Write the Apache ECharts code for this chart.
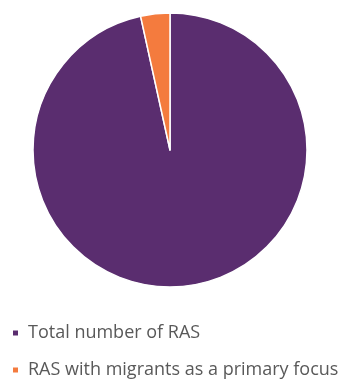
<!DOCTYPE html>
<html>
<head>
<meta charset="utf-8">
<script src="https://cdn.jsdelivr.net/npm/echarts@6/dist/echarts.min.js"></script>
<style>
  html, body { margin: 0; padding: 0; background: #fff; }
  #chart { width: 340px; height: 381px; }
</style>
</head>
<body>
<div id="chart"></div>
<script>
// Slice names and counts
const categories = ["Total number of RAS", "RAS with migrants as a primary focus"];
const values = [28, 1];
const colors = ["#5a2d6f", "#f47b3e"];

const chart = echarts.init(document.getElementById('chart'), null, { renderer: 'canvas' });

// One legend row per category, stacked under the pie
const legendRowTops = [318, 355];
const legends = categories.map((name, i) => ({
  orient: 'vertical',
  left: 6,
  top: legendRowTops[i],
  padding: 5,
  itemWidth: 7,
  itemHeight: 7,
  icon: 'rect',
  textStyle: {
    color: '#595959',
    fontSize: 18,
    lineHeight: 20,
    fontFamily: 'Open Sans',
    padding: [0, 0, 0, 4]
  },
  data: [name]
}));

chart.setOption({
  animation: false,
  color: colors,
  legend: legends,
  series: [{
    type: 'pie',
    center: [170, 150],
    radius: [0, 137],
    startAngle: 90,
    clockwise: true,
    label: { show: false },
    labelLine: { show: false },
    itemStyle: { borderColor: '#ffffff', borderWidth: 1.5 },
    data: categories.map((name, i) => ({ name, value: values[i] }))
  }]
});
</script>
</body>
</html>
